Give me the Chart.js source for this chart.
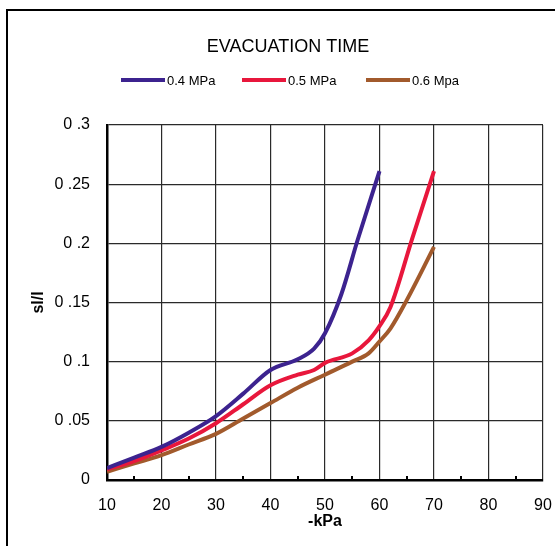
<!DOCTYPE html>
<html><head><meta charset="utf-8">
<script src="https://cdn.jsdelivr.net/npm/chart.js@4/dist/chart.umd.min.js"></script>
<style>html,body{margin:0;padding:0;background:#fff;}#wrap{width:555px;height:546px;}</style>
</head><body><div id="wrap"><canvas id="c" width="555" height="546"></canvas></div>
<script>
const chartTitle = 'EVACUATION TIME';
const seriesNames = ['0.4 MPa', '0.5 MPa', '0.6 Mpa'];
const seriesColors = ['#3C238F', '#E8173C', '#A25A2C'];
const kpa04 = [10, 15, 20, 25, 30, 35, 40, 45, 48, 50, 53, 56, 60];
const sl04  = [0.010, 0.019, 0.028, 0.040, 0.054, 0.073, 0.093, 0.102, 0.111, 0.124, 0.157, 0.203, 0.261];
const kpa05 = [10, 15, 20, 25, 30, 35, 40, 45, 48, 50, 55, 58, 60, 62, 66, 70];
const sl05  = [0.009, 0.016, 0.025, 0.035, 0.048, 0.064, 0.080, 0.089, 0.093, 0.099, 0.107, 0.118, 0.130, 0.146, 0.204, 0.261];
const kpa06 = [10, 15, 20, 25, 30, 35, 40, 45, 50, 55, 58, 60, 62, 65, 70];
const sl06  = [0.007, 0.014, 0.021, 0.030, 0.039, 0.052, 0.065, 0.078, 0.089, 0.100, 0.107, 0.117, 0.128, 0.152, 0.197];
const yTickLabels = ['0', '0 .05', '0 .1', '0 .15', '0 .2', '0 .25', '0 .3'];
const xTickLabels = ['10', '20', '30', '40', '50', '60', '70', '80', '90'];
const xTitle = '-kPa';
const yTitle = 'sl/l';

const FONT = 'Liberation Sans, Arial, sans-serif';
const pts = (xs, ys) => xs.map((x, i) => ({x: x, y: ys[i]}));
const seriesData = [pts(kpa04, sl04), pts(kpa05, sl05), pts(kpa06, sl06)];

const decor = {
  id: 'decor',
  beforeDraw(chart) {
    const ctx = chart.ctx;
    ctx.save();
    ctx.strokeStyle = '#000';
    ctx.lineWidth = 2;
    ctx.beginPath();
    ctx.moveTo(7, 546); ctx.lineTo(7, 10); ctx.lineTo(555, 10);
    ctx.stroke();
    // title
    ctx.fillStyle = '#000';
    ctx.font = '18px ' + FONT;
    ctx.textAlign = 'center';
    ctx.textBaseline = 'middle';
    ctx.fillText(chartTitle, 288, 47);
    // legend
    const lx = [121, 242, 366];
    ctx.font = '13px ' + FONT;
    ctx.textAlign = 'left';
    chart.data.datasets.forEach((ds, i) => {
      ctx.strokeStyle = ds.borderColor;
      ctx.lineWidth = 4;
      ctx.beginPath();
      ctx.moveTo(lx[i], 80); ctx.lineTo(lx[i] + 44, 80);
      ctx.stroke();
      ctx.fillStyle = '#000';
      ctx.fillText(ds.label, lx[i] + 46, 81);
    });
    ctx.restore();
  },
  afterDatasetsDraw(chart) {
    const ctx = chart.ctx, xs = chart.scales.x, a = chart.chartArea;
    ctx.save();
    ctx.fillStyle = '#000';
    for (let v = 15; v < 90; v += 10) {
      const px = xs.getPixelForValue(v);
      ctx.fillRect(Math.round(px) - 1, a.bottom - 4, 2, 3);
    }
    ctx.restore();
  }
};

new Chart(document.getElementById('c'), {
  type: 'line',
  data: {
    datasets: seriesData.map((d, i) => ({
      label: seriesNames[i],
      data: d,
      borderColor: seriesColors[i],
      backgroundColor: seriesColors[i],
      borderWidth: 4,
      pointRadius: 0,
      fill: false,
      cubicInterpolationMode: 'monotone'
    }))
  },
  options: {
    responsive: false,
    animation: false,
    events: [],
    layout: {padding: {top: 125, right: 12, left: 0, bottom: 0}},
    plugins: {legend: {display: false}, title: {display: false}, tooltip: {enabled: false}},
    scales: {
      x: {
        type: 'linear', min: 10, max: 90,
        afterFit(s) { s.height = 66; },
        border: {display: true, color: '#000', width: 2.5},
        grid: {color: '#2a2a2a', lineWidth: 1.2, drawTicks: true, tickLength: 14, tickColor: 'rgba(0,0,0,0)'},
        ticks: {stepSize: 10, padding: 2, color: '#000', font: {family: FONT, size: 16},
          callback: (v) => xTickLabels[Math.round((v - 10) / 10)]},
        title: {display: true, text: xTitle, color: '#000', font: {family: FONT, size: 16, weight: 'bold'}, padding: {top: 0, bottom: 15}}
      },
      y: {
        type: 'linear', min: 0, max: 0.3,
        afterFit(s) { s.width = 107; },
        border: {display: true, color: '#000', width: 2.5},
        grid: {color: '#2a2a2a', lineWidth: 1.2, drawTicks: true, tickLength: 15, tickColor: 'rgba(0,0,0,0)'},
        ticks: {stepSize: 0.05, padding: 2, color: '#000', font: {family: FONT, size: 16},
          callback: (v) => yTickLabels[Math.round(v / 0.05)]},
        title: {display: true, text: yTitle, color: '#000', font: {family: FONT, size: 16, weight: 'bold'}, padding: {top: 29, bottom: 0}}
      }
    }
  },
  plugins: [decor]
});
</script></body></html>
